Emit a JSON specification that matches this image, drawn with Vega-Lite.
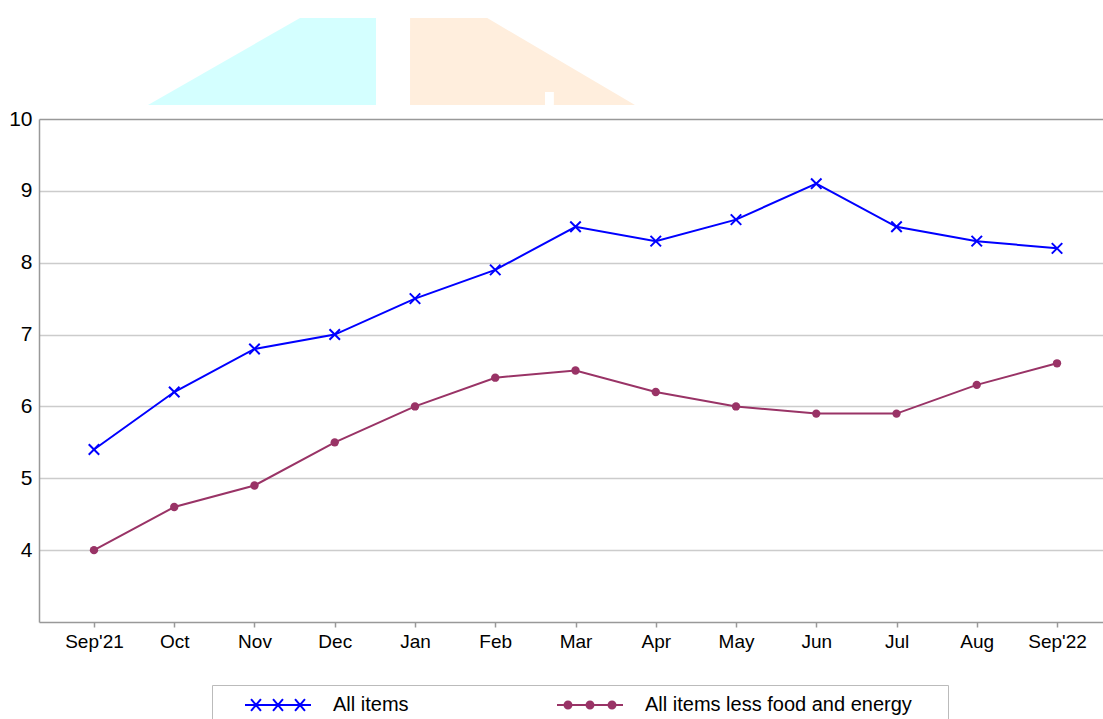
{
  "$schema": "https://vega.github.io/schema/vega-lite/v6.json",
  "width": 1064,
  "height": 503,
  "autosize": {"type": "none"},
  "padding": {"left": 39, "top": 119, "right": 0, "bottom": 97},
  "background": "white",
  "config": {
    "view": {"stroke": null},
    "font": "Liberation Sans, Arial, sans-serif"
  },
  "datasets": {
    "cpi": [
      {"month": "Sep'21", "series": "All items", "value": 5.4},
      {"month": "Oct", "series": "All items", "value": 6.2},
      {"month": "Nov", "series": "All items", "value": 6.8},
      {"month": "Dec", "series": "All items", "value": 7.0},
      {"month": "Jan", "series": "All items", "value": 7.5},
      {"month": "Feb", "series": "All items", "value": 7.9},
      {"month": "Mar", "series": "All items", "value": 8.5},
      {"month": "Apr", "series": "All items", "value": 8.3},
      {"month": "May", "series": "All items", "value": 8.6},
      {"month": "Jun", "series": "All items", "value": 9.1},
      {"month": "Jul", "series": "All items", "value": 8.5},
      {"month": "Aug", "series": "All items", "value": 8.3},
      {"month": "Sep'22", "series": "All items", "value": 8.2},
      {"month": "Sep'21", "series": "All items less food and energy", "value": 4.0},
      {"month": "Oct", "series": "All items less food and energy", "value": 4.6},
      {"month": "Nov", "series": "All items less food and energy", "value": 4.9},
      {"month": "Dec", "series": "All items less food and energy", "value": 5.5},
      {"month": "Jan", "series": "All items less food and energy", "value": 6.0},
      {"month": "Feb", "series": "All items less food and energy", "value": 6.4},
      {"month": "Mar", "series": "All items less food and energy", "value": 6.5},
      {"month": "Apr", "series": "All items less food and energy", "value": 6.2},
      {"month": "May", "series": "All items less food and energy", "value": 6.0},
      {"month": "Jun", "series": "All items less food and energy", "value": 5.9},
      {"month": "Jul", "series": "All items less food and energy", "value": 5.9},
      {"month": "Aug", "series": "All items less food and energy", "value": 6.3},
      {"month": "Sep'22", "series": "All items less food and energy", "value": 6.6}
    ],
    "deco": [
      {"part": "cyan", "dx": 0.673, "top": 10.195, "base": 10.195},
      {"part": "cyan", "dx": 2.567, "top": 11.405, "base": 10.195},
      {"part": "cyan", "dx": 3.514, "top": 11.405, "base": 10.195},
      {"part": "peach", "dx": 3.938, "top": 11.405, "base": 10.195},
      {"part": "peach", "dx": 4.9, "top": 11.405, "base": 10.195},
      {"part": "peach", "dx": 6.741, "top": 10.195, "base": 10.195},
      {"part": "notch", "dx": 5.62, "top": 10.376, "base": 10.195},
      {"part": "notch", "dx": 5.73, "top": 10.376, "base": 10.195}
    ]
  },
  "resolve": {"scale": {"x": "independent"}},
  "layer": [
    {
      "data": {"name": "deco"},
      "transform": [{"filter": "datum.part === 'cyan'"}],
      "mark": {"type": "area", "color": "#d4ffff", "opacity": 1},
      "encoding": {
        "x": {"field": "dx", "type": "quantitative", "scale": {"domain": [-0.6854, 12.573], "nice": false, "zero": false}, "axis": null},
        "y": {"field": "top", "type": "quantitative"},
        "y2": {"field": "base"}
      }
    },
    {
      "data": {"name": "deco"},
      "transform": [{"filter": "datum.part === 'peach'"}],
      "mark": {"type": "area", "color": "#ffeedd", "opacity": 1},
      "encoding": {
        "x": {"field": "dx", "type": "quantitative", "scale": {"domain": [-0.6854, 12.573], "nice": false, "zero": false}, "axis": null},
        "y": {"field": "top", "type": "quantitative"},
        "y2": {"field": "base"}
      }
    },
    {
      "data": {"name": "deco"},
      "transform": [{"filter": "datum.part === 'notch'"}],
      "mark": {"type": "area", "color": "#ffffff", "opacity": 1},
      "encoding": {
        "x": {"field": "dx", "type": "quantitative", "scale": {"domain": [-0.6854, 12.573], "nice": false, "zero": false}, "axis": null},
        "y": {"field": "top", "type": "quantitative"},
        "y2": {"field": "base"}
      }
    },
    {
      "data": {"name": "cpi"},
      "layer": [
        {
          "mark": {"type": "point", "opacity": 0, "filled": false, "strokeWidth": 2, "size": 4356},
          "encoding": {
            "shape": {
              "field": "series", "type": "nominal",
              "scale": {
                "domain": ["All items", "All items less food and energy"],
                "range": [
                  "M-1,0H1M-0.817,-0.18L-0.517,0.18M-0.817,0.18L-0.517,-0.18M-0.15,-0.18L0.15,0.18M-0.15,0.18L0.15,-0.18M0.517,-0.18L0.817,0.18M0.517,0.18L0.817,-0.18",
                  "M-1,0H1M-0.772,0A0.105,0.105,0,1,0,-0.562,0A0.105,0.105,0,1,0,-0.772,0M-0.712,0A0.045,0.045,0,1,0,-0.622,0A0.045,0.045,0,1,0,-0.712,0M-0.105,0A0.105,0.105,0,1,0,0.105,0A0.105,0.105,0,1,0,-0.105,0M-0.045,0A0.045,0.045,0,1,0,0.045,0A0.045,0.045,0,1,0,-0.045,0M0.562,0A0.105,0.105,0,1,0,0.772,0A0.105,0.105,0,1,0,0.562,0M0.622,0A0.045,0.045,0,1,0,0.712,0A0.045,0.045,0,1,0,0.622,0"
                ]
              },
              "legend": {"title": null}
            }
          }
        },
        {
          "mark": {"type": "line", "strokeWidth": 2}
        },
        {
          "transform": [{"filter": "datum.series === 'All items'"}],
          "mark": {"type": "point", "shape": "M-1,-1L1,1M-1,1L1,-1", "size": 110, "strokeWidth": 2, "filled": false, "opacity": 1}
        },
        {
          "transform": [{"filter": "datum.series !== 'All items'"}],
          "mark": {"type": "point", "shape": "circle", "size": 70, "filled": true, "opacity": 1}
        }
      ],
      "encoding": {
        "x": {
          "field": "month", "type": "ordinal", "sort": null,
          "scale": {"type": "point", "padding": 0.629, "align": 0.5446},
          "axis": {
            "title": null, "labelAngle": 0, "grid": false,
            "domainColor": "#999999", "domainWidth": 1.5,
            "tickColor": "#999999", "tickWidth": 1.5, "tickSize": 5,
            "labelPadding": 5, "labelFontSize": 19, "labelColor": "#000000",
            "labelFont": "Liberation Sans, Arial, sans-serif"
          }
        },
        "y": {
          "field": "value", "type": "quantitative",
          "scale": {"domain": [3, 10], "nice": false, "zero": false},
          "axis": {
            "title": null, "values": [4, 5, 6, 7, 8, 9, 10], "format": "d",
            "ticks": false, "labelPadding": 7,
            "domainColor": "#999999", "domainWidth": 1.5,
            "grid": true,
            "gridColor": {"condition": {"test": "datum.value === 10", "value": "#999999"}, "value": "#cccccc"},
            "gridWidth": 1.5,
            "labelFontSize": 21, "labelColor": "#000000",
            "labelFont": "Liberation Sans, Arial, sans-serif"
          }
        },
        "color": {
          "field": "series", "type": "nominal",
          "scale": {"domain": ["All items", "All items less food and energy"], "range": ["#0000ff", "#993366"]},
          "legend": {
            "title": null,
            "orient": "none",
            "legendX": 173,
            "legendY": 566,
            "direction": "horizontal",
            "padding": 8,
            "strokeColor": "#bbbbbb",
            "fillColor": "white",
            "symbolSize": 4356,
            "symbolStrokeWidth": 2,
            "symbolOpacity": 1,
            "symbolOffset": 24,
            "labelOffset": 21,
            "clipHeight": 24,
            "columnPadding": 123,
            "labelFontSize": 20,
            "labelColor": "#000000",
            "labelLimit": 0,
            "labelFont": "Liberation Sans, Arial, sans-serif",
            "labelExpr": "datum.label === 'All items' ? datum.label : datum.label + '\u00a0\u00a0\u00a0\u00a0\u00a0\u200b'"
          }
        }
      }
    }
  ]
}
